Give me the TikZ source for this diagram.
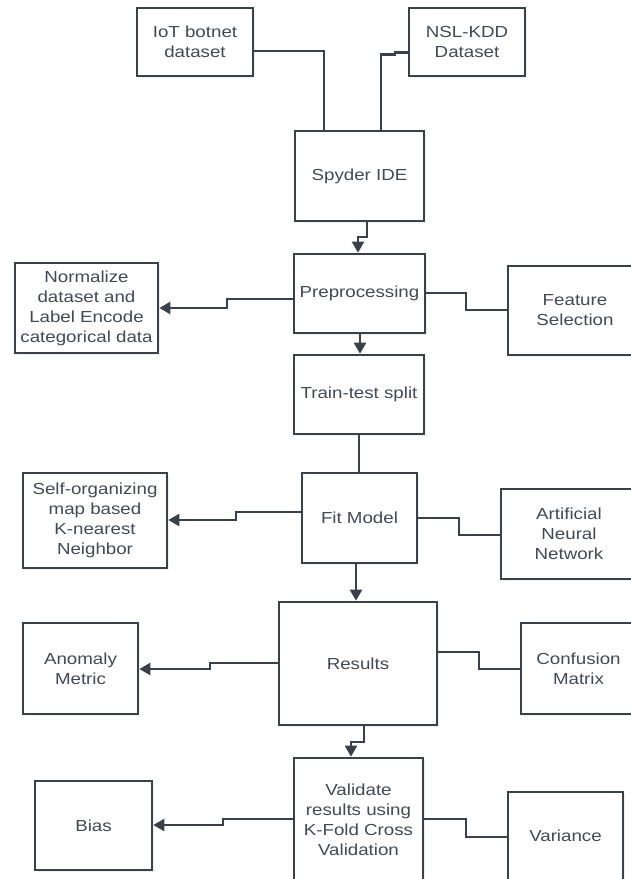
\documentclass[tikz,border=0pt]{standalone}
\usepackage{fontspec}
\setmainfont{Liberation Sans}[FakeStretch=1.17]
\usetikzlibrary{arrows.meta,shadows}
\definecolor{bc}{HTML}{3A414A}
\definecolor{tc}{HTML}{434A54}
\begin{document}
\begin{tikzpicture}[x=1pt,y=-1pt,
  box/.style={draw=bc, line width=2.6pt, fill=white, align=center, inner sep=0pt,
    text=tc, font=\fontsize{16}{20}\selectfont,
    drop shadow={opacity=0.12, shadow xshift=1.5pt, shadow yshift=-2pt}},
  conn/.style={draw=bc, line width=2.2pt},
  arr/.style={conn, -{Triangle[length=11pt,width=12pt]}}]
\useasboundingbox (0,0) rectangle (631,879);
\clip (0,0) rectangle (631,879);

\node[box, minimum width=116pt, minimum height=68pt] (iot) at (195,42) {IoT botnet\\dataset};
\node[box, minimum width=116pt, minimum height=68pt] (nsl) at (467,42) {NSL-KDD\\Dataset};
\node[box, minimum width=129pt, minimum height=90pt] (spy) at (359.5,176) {Spyder IDE};
\node[box, minimum width=131pt, minimum height=79pt] (pre) at (359.5,293.5) {Preprocessing};
\node[box, minimum width=143pt, minimum height=90pt] (norm) at (86.5,308) {Normalize\\dataset and\\Label Encode\\categorical data};
\node[box, minimum width=134pt, minimum height=89pt] (feat) at (575,310.5) {Feature\\Selection};
\node[box, minimum width=130pt, minimum height=79pt] (train) at (359,394.5) {Train-test split};
\node[box, minimum width=115pt, minimum height=90pt] (fit) at (359.5,518) {Fit Model};
\node[box, minimum width=144pt, minimum height=95pt] (som) at (95,520.5) {Self-organizing\\map based\\K-nearest\\Neighbor};
\node[box, minimum width=136pt, minimum height=90pt] (ann) at (569,534) {Artificial\\Neural\\Network};
\node[box, minimum width=158pt, minimum height=123pt] (res) at (358,663.5) {Results};
\node[box, minimum width=115pt, minimum height=91pt] (anom) at (80.5,668.5) {Anomaly\\Metric};
\node[box, minimum width=115pt, minimum height=91pt] (conf) at (578.5,668.5) {Confusion\\Matrix};
\node[box, minimum width=129pt, minimum height=124pt] (val) at (358.5,820) {Validate\\results using\\K-Fold Cross\\Validation};
\node[box, minimum width=117pt, minimum height=89pt] (bias) at (93.5,825.5) {Bias};
\node[box, minimum width=115pt, minimum height=88pt] (var) at (565.5,836) {Variance};

% top inputs
\draw[conn] (iot.east |- 0,51) -| (spy.north -| 324,0);
\draw[conn] (nsl.west |- 0,52.5) -- (395,52.5) -- (395,54.5) -- (381,54.5) -- (spy.north -| 381,0);
% main chain
\draw[arr] (spy.south -| 367,0) -- (367,237) -- (358,237) -- (pre.north -| 358,0);
\draw[arr] (pre.south -| 360,0) -- (train.north -| 360,0);
\draw[conn] (train.south -| 359,0) -- (fit.north -| 359,0);
\draw[arr] (fit.south -| 356,0) -- (res.north -| 356,0);
\draw[arr] (res.south -| 364,0) -- (364,742) -- (351,742) -- (val.north -| 351,0);
% side branches
\draw[arr] (pre.west |- 0,299) -- (227,299) -- (227,308) -- (norm.east |- 0,308);
\draw[conn] (pre.east |- 0,293) -- (466,293) -- (466,310) -- (feat.west |- 0,310);
\draw[arr] (fit.west |- 0,512) -- (236,512) -- (236,520) -- (som.east |- 0,520);
\draw[conn] (fit.east |- 0,518) -- (459,518) -- (459,535) -- (ann.west |- 0,535);
\draw[arr] (res.west |- 0,663) -- (210,663) -- (210,669) -- (anom.east |- 0,669);
\draw[conn] (res.east |- 0,652) -- (479,652) -- (479,669) -- (conf.west |- 0,669);
\draw[arr] (val.west |- 0,819) -- (223,819) -- (223,825) -- (bias.east |- 0,825);
\draw[conn] (val.east |- 0,819) -- (466,819) -- (466,837) -- (var.west |- 0,837);
\end{tikzpicture}
\end{document}
